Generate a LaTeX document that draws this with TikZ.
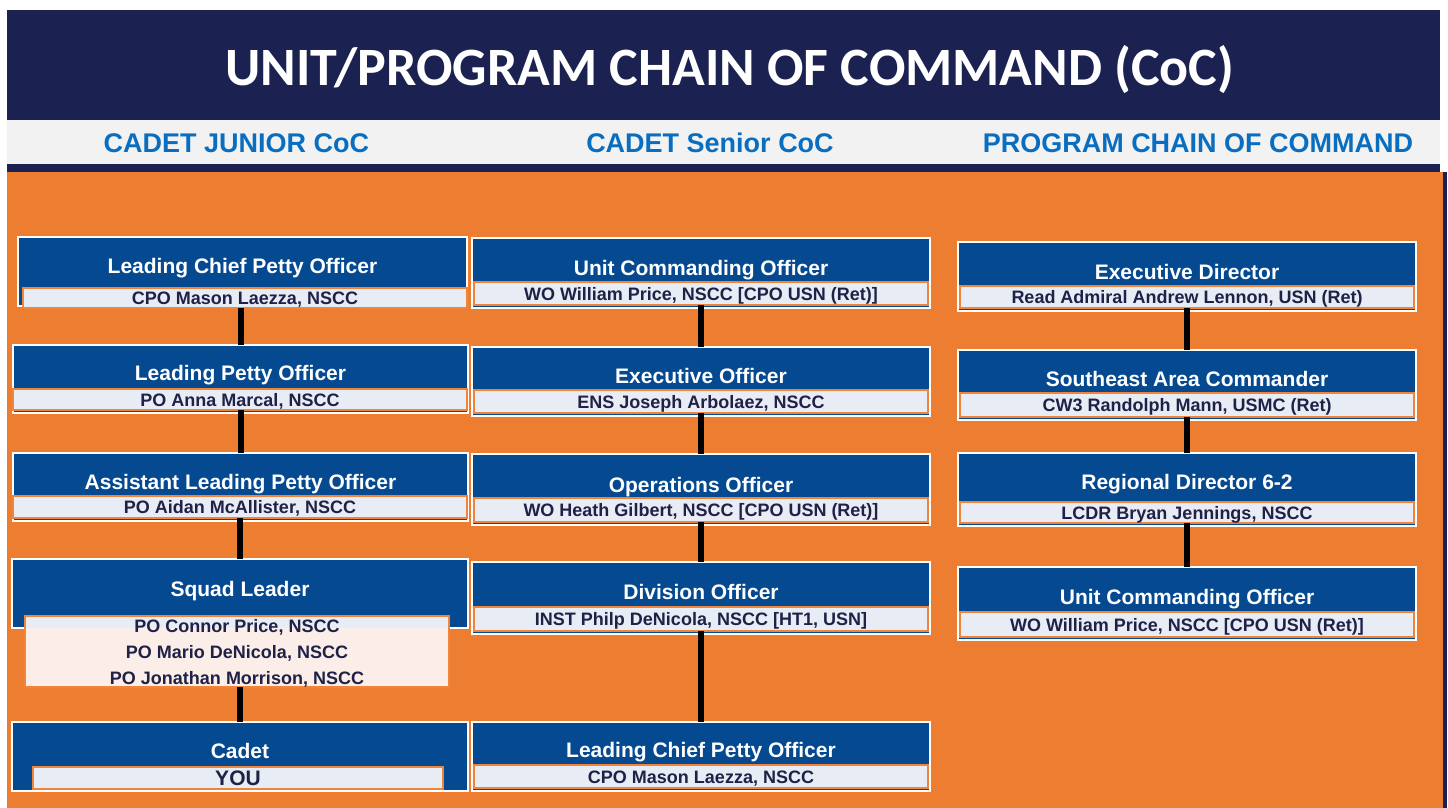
\documentclass[tikz,border=0pt]{standalone}
\usepackage{fontspec}
\setmainfont{Liberation Sans}
\newfontfamily\calib{Carlito}
\definecolor{hdrnavy}{RGB}{27,34,81}
\definecolor{boxnavy}{RGB}{5,74,145}
\definecolor{bgorange}{RGB}{237,125,49}
\definecolor{stripfill}{RGB}{232,236,244}
\definecolor{stripline}{RGB}{240,132,58}
\definecolor{nametext}{RGB}{31,33,71}
\definecolor{subblue}{RGB}{10,110,192}
\definecolor{bandgray}{RGB}{242,242,242}
\definecolor{creamfill}{RGB}{251,238,232}
\tikzset{
  navybox/.style={rectangle, fill=boxnavy, draw=white, line width=1.3pt, inner sep=0pt, outer sep=0pt},
  titletext/.style={text=white, font=\bfseries\fontsize{21}{24}\selectfont, inner sep=0pt, text height=15.1pt, text depth=0pt},
  stripbox/.style={rectangle, fill=stripfill, draw=stripline, line width=1.8pt, inner sep=0pt, outer sep=0pt,
     text=nametext, font=\bfseries\fontsize{18}{26}\selectfont, text height=13pt, text depth=0pt},
  subtitle/.style={text=subblue, font=\bfseries\fontsize{27}{30}\selectfont, inner sep=0pt, text height=19.4pt, text depth=0pt},
  link/.style={line width=6pt, black}
}
\newcommand\cocnavy[7]{%
  \node[navybox, anchor=north west, minimum width={(#4-#2)*1pt}, minimum height={(#5-#3)*1pt}] (#1) at (#2,#3) {};
  \node[titletext] (#1t) at ({(#2+#4)/2},#6) {#7};}
\newcommand\cocstrip[6]{%
  \node[stripbox, anchor=north west, minimum width={(#4-#2)*1pt}, minimum height={(#5-#3)*1pt}] (#1) at (#2,#3) {#6};}
\begin{document}
\begin{tikzpicture}[x=1pt,y=-1pt]
\useasboundingbox (0,0) rectangle (1448,808);
\fill[white] (0,0) rectangle (1448,808);
% background panels
\fill[hdrnavy] (7,10) rectangle (1440,172);
\fill[bandgray] (7,120) rectangle (1440,164);
\fill[bgorange] (7,172) rectangle (1443,808);
\fill[hdrnavy] (1443,172) rectangle (1447,808);
\node[text=white, font=\calib\bfseries\fontsize{54}{60}\selectfont, inner sep=0pt, text height=34.5pt, text depth=0pt] (title) at (730,68) {UNIT/PROGRAM CHAIN OF COMMAND (CoC)};
\node[subtitle] (subj) at (236.5,143) {CADET JUNIOR CoC};
\node[subtitle] (subs) at (710,143) {CADET Senior CoC};
\node[subtitle] (subp) at (1198,143) {PROGRAM CHAIN OF COMMAND};
% left column
\cocnavy{l1}{18}{237}{467}{306}{266}{Leading Chief Petty Officer}
\cocstrip{l1s}{23}{288}{467}{308}{CPO Mason Laezza, NSCC}
\cocnavy{l2}{13}{345}{468}{413}{373}{Leading Petty Officer}
\cocstrip{l2s}{13}{389}{467}{410}{PO Anna Marcal, NSCC}
\cocnavy{l3}{13}{453}{468}{521}{482}{Assistant Leading Petty Officer}
\cocstrip{l3s}{13}{496}{467}{518}{PO Aidan McAllister, NSCC}
\cocnavy{l4}{12}{559}{468}{628}{589}{Squad Leader}
\node[stripbox, fill=creamfill, align=center, text height=, anchor=north west, minimum width=424pt, minimum height=71pt,
  path picture={\fill[stripfill] (path picture bounding box.north west) rectangle ([yshift=-12pt]path picture bounding box.north east);}]
  (l4s) at (25,616) {PO Connor Price, NSCC\\PO Mario DeNicola, NSCC\\PO Jonathan Morrison, NSCC};
\cocnavy{l5}{12}{722}{468}{791}{751}{Cadet}
\node[stripbox, anchor=north west, minimum width=410pt, minimum height=22pt, font=\bfseries\fontsize{21}{24}\selectfont, text height=15pt]
  (l5s) at (33,767) {YOU};
% middle column
\cocnavy{m1}{472}{238}{930}{308}{268}{Unit Commanding Officer}
\cocstrip{m1s}{474}{282}{928}{305}{WO William Price, NSCC [CPO USN (Ret)]}
\cocnavy{m2}{472}{347}{930}{416}{376}{Executive Officer}
\cocstrip{m2s}{474}{390}{928}{413}{ENS Joseph Arbolaez, NSCC}
\cocnavy{m3}{472}{454}{930}{525}{485}{Operations Officer}
\cocstrip{m3s}{474}{498}{928}{522}{WO Heath Gilbert, NSCC [CPO USN (Ret)]}
\cocnavy{m4}{472}{562}{930}{634}{592}{Division Officer}
\cocstrip{m4s}{474}{607}{928}{631}{INST Philp DeNicola, NSCC [HT1, USN]}
\cocnavy{m5}{472}{722}{930}{791}{750}{Leading Chief Petty Officer}
\cocstrip{m5s}{474}{765}{928}{788}{CPO Mason Laezza, NSCC}
% right column
\cocnavy{r1}{958}{242}{1416}{311}{272}{Executive Director}
\cocstrip{r1s}{960}{286}{1414}{308}{Read Admiral Andrew Lennon, USN (Ret)}
\cocnavy{r2}{958}{350}{1416}{420}{379}{Southeast Area Commander}
\cocstrip{r2s}{960}{393}{1414}{417}{CW3 Randolph Mann, USMC (Ret)}
\cocnavy{r3}{958}{453}{1416}{526}{482}{Regional Director 6-2}
\cocstrip{r3s}{960}{502}{1414}{523}{LCDR Bryan Jennings, NSCC}
\cocnavy{r4}{958}{567}{1416}{640}{597}{Unit Commanding Officer}
\cocstrip{r4s}{960}{612}{1414}{637}{WO William Price, NSCC [CPO USN (Ret)]}
% connectors
\draw[link] (l2.north |- l1s.south) -- (l2.north);
\draw[link] (l3.north |- l2s.south) -- (l3.north);
\draw[link] (l4.north |- l3s.south) -- (l4.north);
\draw[link] (l5.north |- l4s.south) -- (l5.north);
\draw[link] (m1s.south -| m2.north) -- (m2.north);
\draw[link] (m2s.south -| m3.north) -- (m3.north);
\draw[link] (m3s.south -| m4.north) -- (m4.north);
\draw[link] (m4s.south -| m5.north) -- (m5.north);
\draw[link] (r1s.south -| r2.north) -- (r2.north);
\draw[link] (r2s.south -| r3.north) -- (r3.north);
\draw[link] (r3s.south -| r4.north) -- (r4.north);
\end{tikzpicture}
\end{document}
